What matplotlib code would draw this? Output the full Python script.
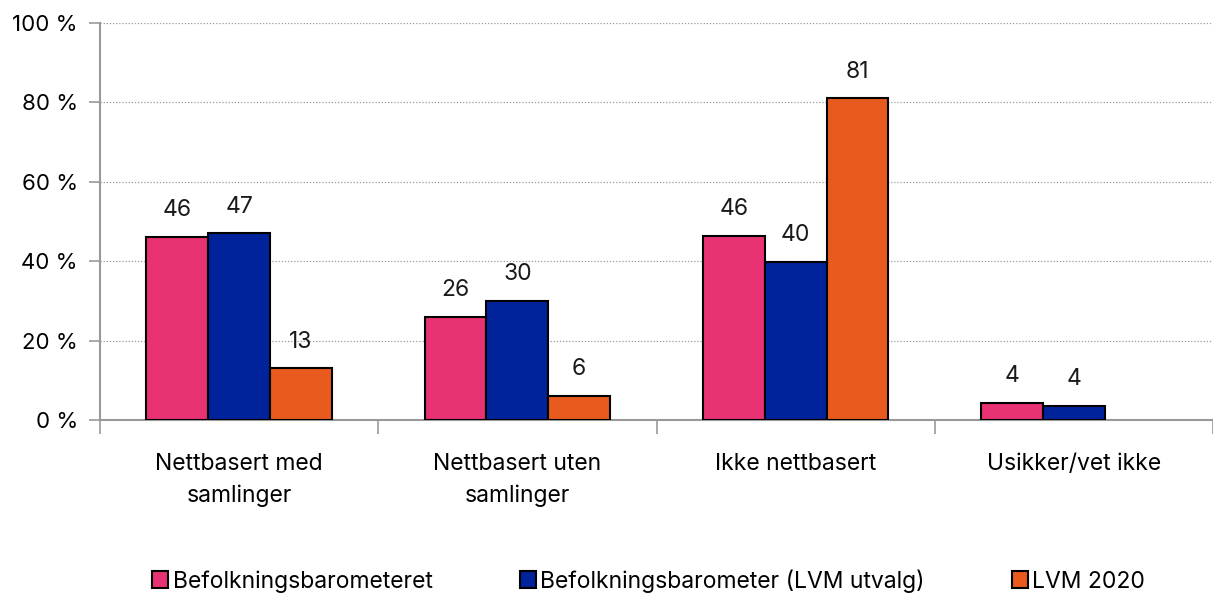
import numpy as np
import matplotlib.pyplot as plt
from matplotlib.ticker import FixedLocator

plt.rcParams['font.family'] = ['Inter', 'DejaVu Sans']

categories = ['Nettbasert med\nsamlinger', 'Nettbasert uten\nsamlinger', 'Ikke nettbasert', 'Usikker/vet ikke']
series_names = ['Befolkningsbarometeret', 'Befolkningsbarometer (LVM utvalg)', 'LVM 2020']
befolkning = [46.2, 26.0, 46.3, 4.2]
befolkning_lvm = [47.0, 30.0, 39.8, 3.6]
lvm_2020 = [13.0, 6.0, 81.0, np.nan]
colors = ['#E83273', '#00229B', '#E95A1E']

fig = plt.figure(figsize=(12.13, 5.94), dpi=100)
ax = fig.add_axes([100 / 1213, 1 - 420 / 594, 1113 / 1213, 397 / 594])

x = np.arange(len(categories))
w = 0.222
for i, (vals, name, c) in enumerate(zip([befolkning, befolkning_lvm, lvm_2020], series_names, colors)):
    pos = x + (i - 1) * w
    ax.bar(pos, vals, w, color=c, edgecolor='black', linewidth=1.5, label=name, zorder=3)
    for p, v in zip(pos, vals):
        if not np.isnan(v):
            ax.text(p, v + 4, f'{v:.0f}', ha='center', va='bottom', fontsize=16.5, color='#1a1a1a')

ax.set_xlim(-0.5, len(categories) - 0.5)
ax.set_ylim(0, 100)
ax.set_yticks(np.arange(0, 101, 20))
ax.set_yticklabels([f'{v} %' for v in range(0, 101, 20)])
ax.grid(axis='y', linestyle=(0, (1, 1.5)), color='#999999', linewidth=0.9, zorder=0)

ax.xaxis.set_major_locator(FixedLocator(np.arange(-0.5, len(categories), 1)))
ax.set_xticklabels([])
ax.xaxis.set_minor_locator(FixedLocator(x))
ax.set_xticklabels(categories, minor=True, linespacing=1.5)
ax.tick_params(axis='x', which='minor', length=0, pad=24, labelsize=16.5)
ax.tick_params(axis='x', which='major', length=10, color='#999999', width=1.2)
ax.tick_params(axis='y', length=8, color='#999999', width=1.2, labelsize=16, pad=8)

for s in ['top', 'right']:
    ax.spines[s].set_visible(False)
for s in ['left', 'bottom']:
    ax.spines[s].set_color('#999999')
    ax.spines[s].set_linewidth(1.5)

ax.legend(loc='center', bbox_to_anchor=(0.493, -0.405), ncol=3, frameon=False, fontsize=16.5,
          handlelength=0.7, handleheight=0.7, handletextpad=0.2, columnspacing=3.8)

plt.savefig('out.png', dpi=100)
